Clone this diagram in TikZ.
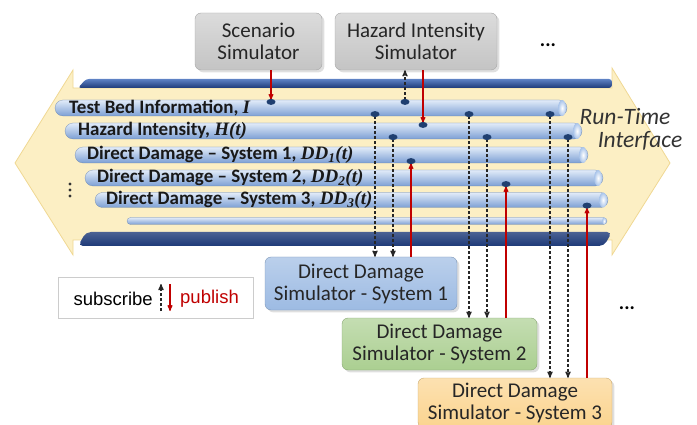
\documentclass[tikz,border=0pt]{standalone}
\usepackage{fontspec}
\setmainfont{Carlito}
\newfontfamily\tnr{Liberation Serif}
\newfontfamily\arial{Liberation Sans}
\usetikzlibrary{calc}
\usetikzlibrary{arrows}
\usetikzlibrary{shadows}
\usetikzlibrary{positioning}
\usepackage{xcolor}

\definecolor{rtyellow}{HTML}{FCEFC4}
\definecolor{rtedge}{HTML}{F0D893}
\definecolor{bartop}{HTML}{5E82C4}
\definecolor{barbot}{HTML}{1E3A78}
\definecolor{pipehi}{HTML}{E2ECF9}
\definecolor{pipemid}{HTML}{A9C4EA}
\definecolor{pipelo}{HTML}{7C9FD4}
\definecolor{tapblue}{HTML}{1F3F70}
\definecolor{pubred}{HTML}{C00000}
\definecolor{simgray}{HTML}{C4C4C4}
\definecolor{dd1blue}{HTML}{9DBBE3}
\definecolor{dd2green}{HTML}{ABCF91}
\definecolor{dd3orange}{HTML}{FBD48F}

\newcommand\tvar[1]{{\tnr\bfseries\itshape #1}}

\tikzset{
  pipe/.style={rounded corners=#1, draw=pipelo!80!black, very thin, inner sep=0,
    top color=pipehi, middle color=pipemid, bottom color=pipelo},
  pipelbl/.style={anchor=west, inner sep=0, font=\fontsize{19}{20}\selectfont\bfseries, text=black!90},
  simbox/.style={rounded corners=6pt, draw=black!35, align=center, inner sep=0,
    font=\fontsize{21}{22}\selectfont, text=black!85, drop shadow={opacity=.25}},
  sub/.style={->, >=stealth', black!85, line width=1.2pt, dash pattern=on 3pt off 2pt},
  pub/.style={->, >=stealth', pubred, line width=1.1pt},
  tapdot/.style={fill=tapblue},
}

\begin{document}
\begin{tikzpicture}[x=1pt,y=-1pt]
\useasboundingbox (0,0) rectangle (697,425);

% run-time interface arrow
\filldraw[fill=rtyellow, draw=rtedge, line width=.8pt]
  (15,163) -- (73,70) -- (73,88) -- (612,88) -- (612,68) -- (670,163)
  -- (612,255) -- (612,240) -- (73,240) -- (73,255) -- cycle;
\shade[top color=bartop, bottom color=barbot, rounded corners=3pt]
  (86,79) -- (612,79) -- (612,88) -- (78,88) -- cycle;
\shade[top color=barbot!80, bottom color=barbot, rounded corners=5pt]
  (86,232) -- (612,232) -- (604,246) -- (78,246) -- cycle;

% data buses
\node[pipe=8pt, minimum width=512, minimum height=16] (p1) at (311,108) {};
\node[pipe=8pt, minimum width=517, minimum height=16] (p2) at (323.5,131) {};
\node[pipe=8pt, minimum width=513, minimum height=16] (p3) at (331.5,155) {};
\node[pipe=8pt, minimum width=518, minimum height=16] (p4) at (344,178) {};
\node[pipe=7.5pt, minimum width=513, minimum height=15] (p5) at (351.5,200) {};
\node[pipe=3.5pt, minimum width=480, minimum height=7] (p6) at (367,221) {};
\foreach \p/\r in {p1/8,p2/8,p3/8,p4/8,p5/7.5} {
  \shade[inner color=white, outer color=pipemid] ([xshift=-5pt]\p.east) ellipse (4pt and \r pt);
}
\shade[inner color=white, outer color=pipemid] ([xshift=-3pt]p6.east) ellipse (2pt and 3.5pt);

\node[pipelbl] (l1) at (69,108) {Test Bed Information, \tvar{I}};
\node[pipelbl] (l2) at (78,131) {Hazard Intensity, \tvar{H(t)}};
\node[pipelbl] (l3) at (87,155) {Direct Damage -- System 1, \tvar{DD\textsubscript{1}(t)}};
\node[pipelbl] (l4) at (97,178) {Direct Damage -- System 2, \tvar{DD\textsubscript{2}(t)}};
\node[pipelbl] (l5) at (106,200) {Direct Damage -- System 3, \tvar{DD\textsubscript{3}(t)}};

\foreach \y in {184,190,196} \fill[black!80] (70,\y) circle (1.6pt);
\node[font=\itshape\fontsize{23.5}{26}\selectfont, text=black!80] (rt) at (625,116) {Run-Time};
\node[font=\itshape\fontsize{23.5}{26}\selectfont, text=black!80] (ri) at (640,141) {Interface};

% simulators
\node[simbox, top color=simgray!60, bottom color=simgray, minimum width=127, minimum height=57] (scen) at (258.5,41.5) {Scenario\\Simulator};
\node[simbox, top color=simgray!60, bottom color=simgray, minimum width=162, minimum height=57] (haz) at (416,41.5) {Hazard Intensity\\Simulator};
\node[font=\fontsize{20}{20}\selectfont] (dt1) at (548,45) {\textbf{...}};
\node[simbox, top color=dd1blue!70, bottom color=dd1blue, draw=dd1blue!80!black, minimum width=192, minimum height=53] (dd1) at (361,283.5) {Direct Damage\\Simulator - System 1};
\node[simbox, top color=dd2green!70, bottom color=dd2green, draw=dd2green!80!black, minimum width=195, minimum height=52] (dd2) at (439.5,344) {Direct Damage\\Simulator - System 2};
\node[simbox, top color=dd3orange!70, bottom color=dd3orange, draw=dd3orange!80!black, minimum width=194, minimum height=50] (dd3) at (515,403) {Direct Damage\\Simulator - System 3};
\node[font=\fontsize{20}{20}\selectfont] (dt2) at (627,308) {\textbf{...}};

% publish / subscribe
\coordinate (sp) at (271,0);
\coordinate (hs) at (405,0);
\coordinate (hp) at (423,0);
\draw[pub] (scen.south -| sp) -- (p1.north -| sp);
\draw[sub] (p1.north -| hs) -- (haz.south -| hs);
\draw[pub] (haz.south -| hp) -- (p2.north -| hp);
\foreach \dd/\xa/\xb/\xc/\pp in {dd1/375/393/411/p3, dd2/469/487/506/p4, dd3/550/568/587/p5} {
  \coordinate (\dd a) at (\xa,0);
  \coordinate (\dd b) at (\xb,0);
  \coordinate (\dd c) at (\xc,0);
  \draw[sub] (p1.south -| \dd a) -- (\dd.north -| \dd a);
  \draw[sub] (p2.south -| \dd b) -- (\dd.north -| \dd b);
  \draw[pub] (\dd.north -| \dd c) -- (\pp.south -| \dd c);
  \fill[tapdot] ([yshift=2pt]p1.south -| \dd a) ellipse (4.5pt and 3pt);
  \fill[tapdot] ([yshift=2pt]p2.south -| \dd b) ellipse (4.5pt and 3pt);
  \fill[tapdot] ([yshift=2pt]\pp.south -| \dd c) ellipse (4.5pt and 3pt);
}
\fill[tapdot] ([yshift=-2pt]p1.north -| sp) ellipse (4.5pt and 3pt);
\fill[tapdot] ([yshift=-2pt]p1.north -| hs) ellipse (4.5pt and 3pt);
\fill[tapdot] ([yshift=-2pt]p2.north -| hp) ellipse (4.5pt and 3pt);

% legend
\node[draw=black!20, fill=white, minimum width=195, minimum height=41] (leg) at (155.5,297.5) {};
\node[font=\arial\fontsize{18.5}{20}\selectfont, anchor=east, inner sep=0] (lsub) at (153,299) {subscribe};
\node[font=\arial\fontsize{18.5}{20}\selectfont, anchor=west, inner sep=0, text=pubred] (lpub) at (180,299) {publish};
\coordinate (lsa) at (161,311);
\coordinate (lsb) at (161,284);
\coordinate (lpa) at (170,284);
\coordinate (lpb) at (170,311);
\draw[sub] (lsa) -- (lsb);
\draw[pub] (lpa) -- (lpb);
\end{tikzpicture}
\end{document}
